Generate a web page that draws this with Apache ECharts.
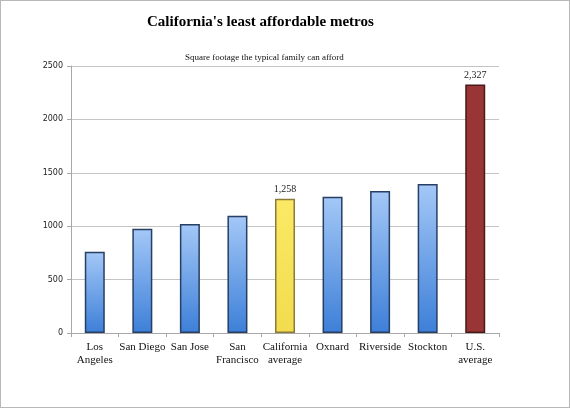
<!DOCTYPE html>
<html><head><meta charset="utf-8">
<script src="https://cdn.jsdelivr.net/npm/echarts@6/dist/echarts.min.js"></script>
<style>html,body{margin:0;padding:0;background:#fff}#c{width:570px;height:408px;box-sizing:border-box;border:1px solid #b8b8b8}</style>
</head><body><div id="c"></div>
<script>
const categories = ["Los\nAngeles","San Diego","San Jose","San\nFrancisco","California\naverage","Oxnard","Riverside","Stockton","U.S.\naverage"];
const values = [760, 975, 1020, 1098, 1258, 1276, 1330, 1395, 2327];
const kinds = ["metro","metro","metro","metro","ca","metro","metro","metro","us"];
const yTicks = [0, 500, 1000, 1500, 2000, 2500];

const styles = {
  metro: {color:{type:'linear',x:0,y:0,x2:0,y2:1,colorStops:[{offset:0,color:'#a4c8f7'},{offset:1,color:'#3d7fd8'}]}, borderColor:'#263f63'},
  ca: {color:{type:'linear',x:0,y:0,x2:0,y2:1,colorStops:[{offset:0,color:'#fbe966'},{offset:1,color:'#f2dc4e'}]}, borderColor:'#8a7c36'},
  us: {color:'#9a3535', borderColor:'#4a1a1a'}
};
const fmt = v => v.toLocaleString('en-US');
const data = values.map((v,i)=>({
  value:v,
  itemStyle:Object.assign({borderWidth:1.5}, styles[kinds[i]]),
  label:{show: kinds[i] !== 'metro', position:'top', distance:4, formatter: p=>fmt(p.value), fontFamily:'Liberation Serif', fontSize:10, color:'#222'}
}));
const chart = echarts.init(document.getElementById('c'), null, {renderer:'canvas'});
chart.setOption({
  animation:false,
  backgroundColor:'#fff',
  title:[
    {text:"California's least affordable metros", left:141, top:9, textStyle:{fontFamily:'Liberation Serif', fontWeight:'bold', fontSize:15, color:'#000'}},
    {text:"Square footage the typical family can afford", left:179, top:47, textStyle:{fontFamily:'Liberation Serif', fontWeight:'normal', fontSize:9, color:'#111'}}
  ],
  grid:{left:70, right:70, top:65, bottom:74, containLabel:false},
  xAxis:{type:'category', data:categories,
    axisLine:{lineStyle:{color:'#a8a8a8'}},
    axisTick:{show:true, alignWithLabel:false, length:4, lineStyle:{color:'#a8a8a8'}},
    axisLabel:{interval:0, fontFamily:'Liberation Serif', fontSize:11, color:'#111', lineHeight:13, margin:8}},
  yAxis:{type:'value', min:yTicks[0], max:yTicks[yTicks.length-1], interval:500,
    axisLine:{show:true, lineStyle:{color:'#a8a8a8'}},
    axisTick:{show:true, length:4, lineStyle:{color:'#a8a8a8'}},
    splitLine:{lineStyle:{color:'#c4c4c4'}},
    axisLabel:{fontFamily:'DejaVu Sans', fontSize:8, color:'#222', margin:8, formatter: v => String(v)}},
  series:[{type:'bar', data:data, barWidth:20}]
});
</script></body></html>
